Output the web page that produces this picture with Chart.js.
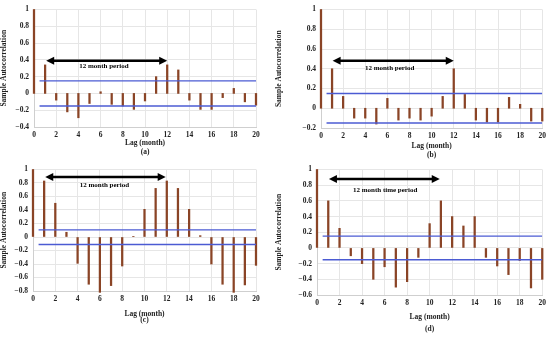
<!DOCTYPE html>
<html>
<head>
<meta charset="utf-8">
<script src="https://cdn.jsdelivr.net/npm/chart.js@4/dist/chart.umd.min.js"></script>
<style>
body{margin:0;background:#fff;}
#wrap{position:relative;width:550px;height:337px;overflow:hidden;}
canvas{position:absolute;}
</style>
</head>
<body>
<div id="wrap">
<canvas id="ca" width="275" height="160" style="left:0;top:0"></canvas>
<canvas id="cb" width="275" height="160" style="left:275px;top:0"></canvas>
<canvas id="cc" width="275" height="177" style="left:0;top:160px"></canvas>
<canvas id="cd" width="275" height="177" style="left:275px;top:160px"></canvas>
</div>
<script>
// lags 0..20 (months)
const lags=[0,1,2,3,4,5,6,7,8,9,10,11,12,13,14,15,16,17,18,19,20]
// sample autocorrelation
const acfA=[1,0.34,-0.08,-0.22,-0.29,-0.12,0.02,-0.13,-0.15,-0.19,-0.09,0.2,0.34,0.28,-0.08,-0.19,-0.19,-0.05,0.06,-0.1,-0.14]
const acfB=[1,0.4,0.12,-0.1,-0.1,-0.16,0.1,-0.12,-0.1,-0.12,-0.08,0.12,0.4,0.14,-0.12,-0.14,-0.14,0.11,0.04,-0.13,-0.13]
const acfC=[1,0.83,0.5,0.07,-0.39,-0.7,-0.82,-0.72,-0.43,0.01,0.41,0.72,0.83,0.72,0.41,0.02,-0.4,-0.7,-0.82,-0.71,-0.42]
const acfD=[1,0.6,0.25,-0.1,-0.2,-0.4,-0.24,-0.5,-0.43,-0.12,0.31,0.6,0.4,0.28,0.4,-0.12,-0.23,-0.34,-0.16,-0.51,-0.4]
// confidence bounds
const boundA=[0.15,-0.15]
const boundB=[0.15,-0.15]
const boundC=[0.105,-0.11]
const boundD=[0.15,-0.15]
const xTicks=[0,2,4,6,8,10,12,14,16,18,20]

const serif="'Liberation Serif','DejaVu Serif',serif"
const stemColor='#8a4426'
const boundColor='#4b5bd3'

const arrowPlugin={
  id:'arrow',
  afterDatasetsDraw(chart){
    const a=chart.options.plugins.arrow
    if(!a)return
    const xs=chart.scales.x,ys=chart.scales.y
    const ctx=chart.ctx
    const x1=xs.getPixelForValue(a.from),x2=xs.getPixelForValue(a.to),y=ys.getPixelForValue(a.level)
    ctx.save()
    ctx.strokeStyle='#000';ctx.fillStyle='#000';ctx.lineWidth=2.5
    ctx.beginPath();ctx.moveTo(x1+5,y);ctx.lineTo(x2-5,y);ctx.stroke()
    ctx.beginPath();ctx.moveTo(x1,y);ctx.lineTo(x1+8,y-4);ctx.lineTo(x1+8,y+4);ctx.closePath();ctx.fill()
    ctx.beginPath();ctx.moveTo(x2,y);ctx.lineTo(x2-8,y-4);ctx.lineTo(x2-8,y+4);ctx.closePath();ctx.fill()
    ctx.font='bold 7px '+serif
    ctx.textAlign='center';ctx.textBaseline='middle'
    ctx.fillText(a.text,xs.getPixelForValue(a.textX),ys.getPixelForValue(a.textY))
    ctx.restore()
  }
}

function fmt(v){
  v=Math.round(v*10)/10
  if(v===0)return '0'
  if(v===1)return '1'
  return v<0?'\u2212'+Math.abs(v).toFixed(1):v.toFixed(1)
}

function makePanel(id,acf,bound,cfg){
  const canvas=document.getElementById(id)
  const h=canvas.height,w=canvas.width
  new Chart(canvas.getContext('2d'),{
    type:'bar',
    data:{
      datasets:[
        {type:'bar',data:lags.map((l,i)=>({x:l,y:acf[i]})),backgroundColor:stemColor,barThickness:1.6,clip:false,order:2},
        {type:'line',data:[{x:0.5,y:bound[0]},{x:20,y:bound[0]}],borderColor:boundColor,borderWidth:1.4,pointRadius:0,order:1},
        {type:'line',data:[{x:0.5,y:bound[1]},{x:20,y:bound[1]}],borderColor:boundColor,borderWidth:1.4,pointRadius:0,order:1}
      ]
    },
    options:{
      responsive:false,animation:false,
      layout:{padding:{left:0,right:w-cfg.plotR,top:cfg.plotT,bottom:0}},
      plugins:{legend:{display:false},tooltip:{enabled:false},arrow:cfg.arrow},
      scales:{
        x:{type:'linear',min:0,max:20,offset:false,
          afterBuildTicks(s){s.ticks=xTicks.map(v=>({value:v}))},
          afterFit(s){s.height=h-cfg.plotB},
          grid:{color:'#e6e6e6',drawTicks:false,offset:false},border:{color:'#cfcfcf'},
          ticks:{padding:4,maxRotation:0,color:'#222',font:{family:serif,size:7.5,weight:'bold'}},
          title:{display:true,text:['Lag (month)',cfg.label],color:'#222',padding:{top:0,bottom:cfg.titleBottom},
            font:{family:serif,size:7.5,weight:'bold',lineHeight:cfg.titleLH}}
        },
        y:{min:cfg.yMin,max:1,
          afterFit(s){s.width=cfg.plotL},
          grid:{color:'#e6e6e6',drawTicks:false},border:{color:'#cfcfcf',z:-1},
          ticks:{stepSize:0.2,padding:5,color:'#222',callback:fmt,font:{family:serif,size:7.5,weight:'bold'}},
          title:{display:true,text:'Sample Autocorrelation',color:'#222',padding:0,
            font:{family:serif,size:7.5,weight:'bold'}}
        }
      }
    },
    plugins:[arrowPlugin]
  })
}

makePanel('ca',acfA,boundA,{plotL:34,plotR:256,plotT:7,plotB:127,yMin:-0.4,label:'(a)',titleBottom:4,titleLH:1.15,
  arrow:{from:1.1,to:12,level:0.39,text:'12 month period',textX:6.3,textY:0.32}})
makePanel('cb',acfB,boundB,{plotL:46,plotR:268,plotT:7,plotB:128,yMin:-0.2,label:'(b)',titleBottom:1,titleLH:1.15,
  arrow:{from:1.05,to:12,level:0.48,text:'12 month period',textX:6.2,textY:0.41}})
makePanel('cc',acfC,boundC,{plotL:33,plotR:256,plotT:8,plotB:131,yMin:-0.8,label:'(c)',titleBottom:14,titleLH:0.8,
  arrow:{from:1.1,to:11.9,level:0.89,text:'12 month period',textX:6.4,textY:0.77}})
makePanel('cd',acfD,boundD,{plotL:42,plotR:268,plotT:9,plotB:135,yMin:-0.6,label:'(d)',titleBottom:2,titleLH:1.6,
  arrow:{from:1.06,to:10.9,level:0.88,text:'12 month time period',textX:6.05,textY:0.74}})
</script>
</body>
</html>
